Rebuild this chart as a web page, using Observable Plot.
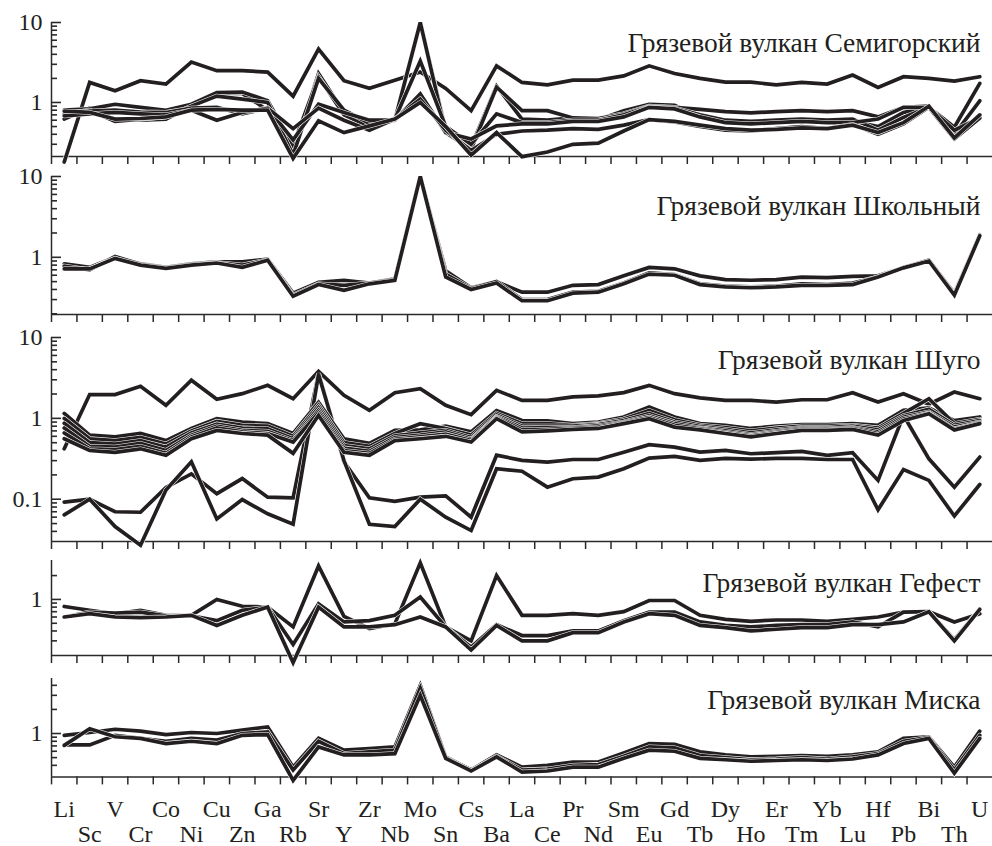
<!DOCTYPE html>
<html><head><meta charset="utf-8">
<script src="https://cdn.jsdelivr.net/npm/d3@7"></script>
<script src="https://cdn.jsdelivr.net/npm/@observablehq/plot@0.6"></script>
<style>
body{margin:0;background:#fff}
#chart{position:relative;width:992px;height:846px;overflow:hidden;background:#fff}
#chart svg{position:absolute;left:0}
</style>
</head><body><div id="chart"></div>
<script>
const elements = ["Li","Sc","V","Cr","Co","Ni","Cu","Zn","Ga","Rb","Sr","Y","Zr","Nb","Mo","Sn","Cs","Ba","La","Ce","Pr","Nd","Sm","Eu","Gd","Tb","Dy","Ho","Er","Tm","Yb","Lu","Hf","Pb","Bi","Th","U"];

const titles = ["Грязевой вулкан Семигорский","Грязевой вулкан Школьный","Грязевой вулкан Шуго","Грязевой вулкан Гефест","Грязевой вулкан Миска"];

// Семигорский
const semigorsky1 = [0.18,1.78,1.4,1.87,1.7,3.2,2.5,2.5,2.4, 1.2,4.65,1.87,1.5,1.9,2.4,1.5,0.79,2.87, 1.78,1.66,1.9,1.9,2.15,2.87,2.3, 2.0,1.8,1.8,1.66,1.78,1.7,2.2, 1.54,2.1,2.0,1.85,2.1];
const semigorsky2 = [0.62,0.85,0.6,0.6,0.62,0.9,1.3,1.3,0.8, 0.24,2.3,0.75,0.55,0.6,10,0.45,0.28,1.6, 0.62,0.6,0.64,0.61,0.79,0.95,0.92, 0.66,0.6,0.54,0.58,0.6,0.58,0.58, 0.5,0.75,0.87,0.49,1.73];
const semigorsky3 = [0.8,0.83,0.95,0.87,0.8,0.95,1.33,1.35,1.05, 0.29,2.1,0.7,0.5,0.6,10,0.42,0.26,1.55, 0.79,0.79,0.64,0.63,0.72,0.9,0.87, 0.82,0.77,0.74,0.77,0.79,0.77,0.79, 0.66,0.87,0.9,0.4,1.05];
const semigorsky4 = [0.72,0.8,0.58,0.62,0.66,0.9,1.2,1.1,1.0, 0.22,2.0,0.8,0.55,0.62,3.3,0.5,0.3,0.72, 0.56,0.56,0.6,0.6,0.7,0.88,0.85, 0.7,0.6,0.58,0.6,0.62,0.6,0.62, 0.45,0.65,0.87,0.37,0.68];
const semigorsky5 = [0.7,0.78,0.8,0.76,0.75,0.85,0.87,0.72,0.85, 0.34,0.95,0.75,0.6,0.6,1.28,0.42,0.35,0.51, 0.54,0.54,0.58,0.58,0.66,0.87,0.83, 0.66,0.56,0.54,0.56,0.58,0.56,0.56, 0.62,0.87,0.87,0.45,0.64];
const semigorsky6 = [0.68,0.72,0.75,0.72,0.7,0.8,0.6,0.75,0.85, 0.47,0.85,0.6,0.45,0.62,1.1,0.45,0.25,0.4, 0.44,0.45,0.47,0.46,0.52,0.61,0.57, 0.5,0.45,0.44,0.47,0.5,0.47,0.53, 0.4,0.54,0.87,0.35,0.64];
const semigorsky7 = [0.78,0.75,0.62,0.63,0.66,0.8,0.82,0.8,0.8, 0.2,0.59,0.42,0.51,0.62,1.0,0.5,0.22,0.42, 0.21,0.24,0.3,0.31,0.44,0.61,0.58, 0.52,0.47,0.45,0.46,0.48,0.47,0.52, 0.42,0.56,0.9,0.36,0.7];

// Школьный
const shkolny1 = [0.83,0.75,1.0,0.83,0.75,0.83,0.88,0.88,0.95, 0.36,0.49,0.52,0.48,0.54,10,0.68,0.42,0.5, 0.37,0.37,0.45,0.46,0.59,0.75,0.72, 0.59,0.53,0.52,0.53,0.57,0.56,0.58, 0.59,0.75,0.91,0.36,1.9];
const shkolny2 = [0.72,0.72,0.97,0.8,0.73,0.8,0.85,0.75,0.92, 0.33,0.46,0.39,0.47,0.52,10,0.57,0.4,0.48, 0.29,0.29,0.36,0.37,0.47,0.62,0.6, 0.46,0.43,0.42,0.43,0.45,0.45,0.46, 0.57,0.74,0.9,0.34,1.85];
const shkolny3 = [0.78,0.7,1.02,0.82,0.74,0.82,0.86,0.8,0.93, 0.34,0.47,0.45,0.48,0.53,10,0.62,0.41,0.5, 0.3,0.3,0.37,0.38,0.48,0.64,0.61, 0.47,0.44,0.43,0.44,0.47,0.46,0.48, 0.57,0.75,0.92,0.35,1.88];

// Шуго
const shugo1 = [0.42,1.97,1.97,2.49,1.45,2.96,1.72,2.02,2.56, 1.75,3.82,1.93,1.26,2.08,2.33,1.45,1.11,2.22, 1.67,1.67,1.84,1.9,2.08,2.56,2.02, 1.79,1.67,1.67,1.59,1.7,1.7,2.08, 1.59,2.02,1.5,2.12,1.75];
const shugo2 = [0.092,0.1,0.07,0.069,0.14,0.206,0.117,0.18,0.106, 0.104,3.6,0.29,0.104,0.094,0.106,0.11,0.06,0.35, 0.302,0.288,0.31,0.31,0.382,0.472,0.441, 0.382,0.401,0.365,0.376,0.39,0.348,0.376, 0.171,1.09,0.316,0.141,0.332];
const shugo3 = [0.064,0.1,0.046,0.027,0.13,0.29,0.057,0.099,0.066, 0.049,3.5,0.3,0.049,0.046,0.1,0.06,0.041,0.238, 0.222,0.141,0.179,0.188,0.238,0.322,0.338, 0.302,0.32,0.313,0.32,0.32,0.31,0.31, 0.074,0.233,0.171,0.062,0.152];
const shugo4 = [1.15,0.62,0.59,0.65,0.53,0.75,0.99,0.9,0.86, 0.65,1.58,0.56,0.49,0.71,0.72,0.8,0.68,1.25, 0.94,0.93,0.86,0.9,1.04,1.38,1.04, 0.86,0.82,0.75,0.8,0.84,0.84,0.86, 0.82,1.26,1.35,0.94,1.04];
const shugo5 = [1.0,0.56,0.53,0.58,0.48,0.7,0.92,0.82,0.8, 0.6,1.45,0.5,0.45,0.65,0.86,0.75,0.62,1.15, 0.86,0.86,0.82,0.86,0.98,1.25,0.96, 0.82,0.77,0.7,0.76,0.8,0.8,0.82, 0.76,1.15,1.75,0.86,0.97];
const shugo6 = [0.87,0.5,0.48,0.53,0.44,0.66,0.85,0.76,0.74, 0.56,1.35,0.46,0.42,0.61,0.66,0.71,0.58,1.1, 0.8,0.8,0.8,0.84,0.94,1.15,0.9, 0.79,0.73,0.66,0.72,0.77,0.77,0.8, 0.72,1.08,1.3,0.82,0.94];
const shugo7 = [0.76,0.45,0.44,0.49,0.4,0.62,0.8,0.71,0.69, 0.53,1.25,0.43,0.39,0.58,0.62,0.68,0.55,1.05, 0.76,0.77,0.77,0.81,0.9,1.08,0.86, 0.76,0.7,0.63,0.69,0.75,0.74,0.77, 0.68,1.03,1.2,0.78,0.9];
const shugo8 = [0.66,0.42,0.41,0.45,0.37,0.59,0.76,0.68,0.65, 0.51,1.17,0.4,0.37,0.55,0.59,0.64,0.53,1.02, 0.72,0.73,0.75,0.78,0.88,1.03,0.82, 0.74,0.67,0.61,0.67,0.73,0.72,0.75, 0.65,0.98,1.16,0.74,0.88];
const shugo9 = [0.56,0.4,0.38,0.42,0.35,0.56,0.71,0.65,0.62, 0.37,1.09,0.38,0.35,0.53,0.56,0.6,0.51,0.99, 0.68,0.7,0.73,0.75,0.86,0.99,0.78, 0.72,0.65,0.59,0.65,0.71,0.71,0.73, 0.62,0.94,1.14,0.72,0.86];

// Гефест
const gefest1 = [0.815,0.73,0.66,0.73,0.63,0.63,1.0,0.82,0.8, 0.45,2.64,0.61,0.43,0.49,2.9,0.45,0.3,2.0, 0.63,0.63,0.66,0.63,0.7,0.97,0.97, 0.63,0.56,0.53,0.55,0.55,0.53,0.56, 0.6,0.69,0.7,0.52,0.66];
const gefest2 = [0.6,0.69,0.67,0.69,0.62,0.62,0.54,0.73,0.8, 0.27,0.88,0.52,0.54,0.63,1.07,0.45,0.25,0.48, 0.35,0.35,0.4,0.4,0.54,0.69,0.69, 0.52,0.47,0.45,0.47,0.48,0.48,0.52, 0.45,0.69,0.7,0.31,0.76];
const gefest3 = [0.6,0.66,0.6,0.59,0.6,0.63,0.47,0.63,0.8, 0.16,0.8,0.45,0.45,0.48,0.6,0.45,0.23,0.47, 0.3,0.3,0.38,0.38,0.52,0.66,0.63, 0.47,0.44,0.4,0.42,0.44,0.44,0.48, 0.48,0.52,0.7,0.3,0.75];

// Миска
const miska1 = [0.95,1.03,1.13,1.07,0.97,1.03,1.0,1.1,1.21, 0.38,0.87,0.62,0.65,0.68,4.0,0.51,0.35,0.54, 0.38,0.4,0.44,0.44,0.57,0.75,0.73, 0.59,0.54,0.51,0.52,0.53,0.52,0.54, 0.59,0.87,0.91,0.38,1.07];
const miska2 = [0.71,1.15,0.91,0.87,0.75,0.8,0.75,0.95,0.97, 0.26,0.68,0.54,0.54,0.56,3.0,0.49,0.34,0.51, 0.33,0.34,0.38,0.38,0.49,0.62,0.6, 0.49,0.47,0.45,0.46,0.47,0.46,0.48, 0.54,0.75,0.87,0.32,0.87];
const miska3 = [0.72,0.72,0.95,0.87,0.8,0.87,0.83,1.0,1.05, 0.35,0.8,0.56,0.59,0.62,3.7,0.5,0.34,0.52, 0.35,0.36,0.4,0.41,0.52,0.68,0.66, 0.53,0.5,0.47,0.48,0.5,0.48,0.51, 0.56,0.8,0.89,0.35,0.95];

// y-axis tick values per panel
const majors1 = [1, 10], minors1 = [0.3,0.4,0.5,0.6,0.7,0.8,0.9,2,3,4,5,6,7,8,9];
const majors2 = [1, 10], minors2 = [0.2,0.3,0.4,0.5,0.6,0.7,0.8,0.9,2,3,4,5,6,7,8,9];
const majors3 = [0.1, 1, 10], minors3 = [0.04,0.05,0.06,0.07,0.08,0.09,0.2,0.3,0.4,0.5,0.6,0.7,0.8,0.9,2,3,4,5,6,7,8,9];
const majors4 = [1], minors4 = [0.3,0.4,0.5,0.6,0.7,0.8,0.9,2];
const majors5 = [1], minors5 = [0.4,0.5,0.6,0.7,0.8,0.9,2,3,4];

const panels = [
  {title: titles[0], series: [semigorsky1,semigorsky2,semigorsky3,semigorsky4,semigorsky5,semigorsky6,semigorsky7], domain: [0.211, 10], top: 21.7, bottom: 155.7, majors: majors1, minors: minors1, titleDy: 29},
  {title: titles[1], series: [shkolny1,shkolny3,shkolny2], domain: [0.196, 10], top: 176, bottom: 314, majors: majors2, minors: minors2, titleDy: 38},
  {title: titles[2], series: [shugo1,shugo2,shugo3,shugo4,shugo5,shugo6,shugo7,shugo8,shugo9], domain: [0.03, 10], top: 337, bottom: 541, majors: majors3, minors: minors3, titleDy: 31},
  {title: titles[3], series: [gefest1,gefest2,gefest3], domain: [0.196, 3.1], top: 560, bottom: 655, majors: majors4, minors: minors4, titleDy: 31},
  {title: titles[4], series: [miska1,miska3,miska2], domain: [0.287, 4.87], top: 678.3, bottom: 776.7, majors: majors5, minors: minors5, titleDy: 31}
];

const W = 992, ML = 51, INK = "#231f20", AX = "#2a2a2a";
const FONT = "'Liberation Serif','Times New Roman',Times,serif";
const chart = document.getElementById("chart");

panels.forEach((p, k) => {
  const last = k === panels.length - 1;
  const mt = 14, mb = last ? 846 - p.bottom : 14;
  const h = (p.bottom - p.top) + mt + mb;
  const marks = [];
  // axis lines
  marks.push(Plot.ruleX([0], {stroke: AX, strokeWidth: 1.5}));
  marks.push(Plot.ruleY([p.domain[0]], {stroke: AX, strokeWidth: 1.5}));
  // inward y ticks
  marks.push(Plot.ruleY(p.majors, {stroke: AX, strokeWidth: 1.6, insetRight: W - ML - 10}));
  marks.push(Plot.ruleY(p.minors, {stroke: AX, strokeWidth: 1.6, insetRight: W - ML - 6}));
  marks.push(Plot.axisY({ticks: p.majors, tickSize: 0, tickPadding: 9, fontSize: 24, tickFormat: d => String(d), fill: INK, label: null}));
  // x ticks at element boundaries
  marks.push(Plot.axisX({ticks: d3.range(0, 37), tickSize: 8, tickFormat: () => "", stroke: AX, strokeWidth: 1.5, label: null}));
  // lines with thin white halo
  p.series.forEach((s) => {
    const pts = s.map((v, i) => ({x: i + 0.5, v}));
    marks.push(Plot.line(pts, {x: "x", y: "v", stroke: "white", strokeWidth: 4.8, strokeLinejoin: "miter", strokeMiterlimit: 3}));
    marks.push(Plot.line(pts, {x: "x", y: "v", stroke: INK, strokeWidth: 3.7, strokeLinejoin: "miter", strokeMiterlimit: 3}));
  });
  marks.push(Plot.text([p.title], {frameAnchor: "top-right", text: d => d, dx: -12, dy: p.titleDy, lineAnchor: "bottom", textAnchor: "end", fontSize: 27.5, fill: INK}));
  if (last) {
    const even = d3.range(0, 37).filter(i => i % 2 === 0).map(i => i + 0.5);
    const odd = d3.range(0, 37).filter(i => i % 2 === 1).map(i => i + 0.5);
    const fmt = d => elements[Math.round(d - 0.5)];
    marks.push(Plot.axisX({ticks: even, tickSize: 0, tickPadding: 23, tickFormat: fmt, fontSize: 24, fill: INK, label: null}));
    marks.push(Plot.axisX({ticks: odd, tickSize: 0, tickPadding: 48, tickFormat: fmt, fontSize: 24, fill: INK, label: null}));
  }
  const svg = Plot.plot({
    width: W, height: h,
    marginLeft: ML, marginRight: 0, marginTop: mt, marginBottom: mb,
    x: {type: "linear", domain: [0, 37], label: null},
    y: {type: "log", domain: p.domain, label: null},
    style: {fontFamily: FONT, fontSize: "24px", color: INK, background: "none", overflow: "visible"},
    marks
  });
  svg.style.top = (p.top - mt) + "px";
  chart.appendChild(svg);
});
</script>
</body></html>
